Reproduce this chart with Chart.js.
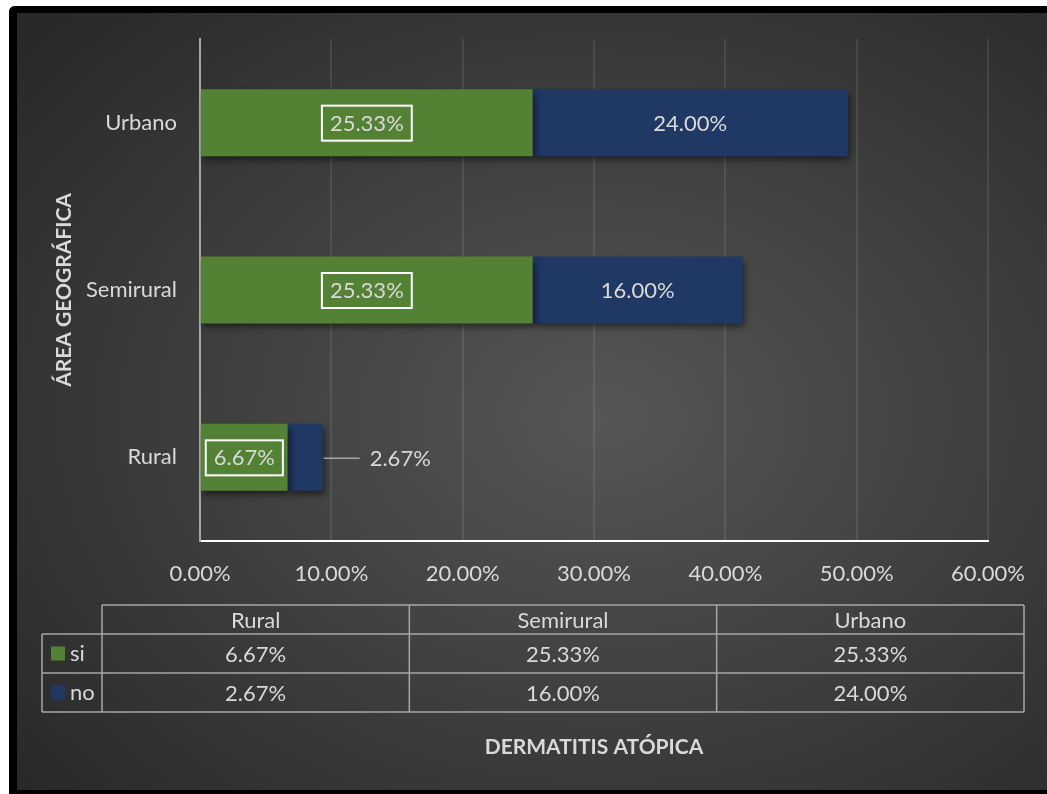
<!DOCTYPE html>
<html lang="es">
<head>
<meta charset="utf-8">
<title>Dermatitis atópica por área geográfica</title>
<script src="https://cdn.jsdelivr.net/npm/chart.js@4.4.1/dist/chart.umd.min.js"></script>
<style>
  html, body { margin: 0; background: #fff; }
  #frame {
    position: absolute; left: 9px; top: 6px;
    width: 1030px; height: 777px;
    border-left: 8px solid #000; border-top: 7px solid #000; border-bottom: 4px solid #000;
    border-top-left-radius: 6px;
    background: radial-gradient(ellipse 75% 75% at 57% 52%, #565656 0%, #3f3f3f 50%, #282828 100%);
  }
  canvas { display: block; }
</style>
</head>
<body>
<div id="frame"><canvas id="chart" width="1030" height="777"></canvas></div>
<script>
"use strict";

// data
const AREAS = ["Rural", "Semirural", "Urbano"];
const SERIES = ["si", "no"];
const SI = [6.67, 25.33, 25.33];
const NO = [2.67, 16.0, 24.0];
const X_MIN = 0, X_MAX = 60, X_STEP = 10;

const GREEN = "#548235";
const BLUE = "#203864";
const TXT = "#d9d9d9";
const LINE = "#a6a6a6";
const FAMILY = "Lato, 'Open Sans', sans-serif";
const FONT_TXT = "22px " + FAMILY;
const FONT_BOLD = "bold 21px " + FAMILY;

const fmtPct = (v) => Number(v).toFixed(2) + "%";

// data table under the axis: legend column, then one column per area
const TABLE = { legendLeft: 25, left: 85, right: 1007, rows: [592, 621, 660, 699] };

// drop shadow under the bars, then the value labels on top
const barLabels = {
  id: "barLabels",
  beforeDatasetsDraw(chart) {
    const ctx = chart.ctx;
    ctx.save();
    ctx.shadowColor = "rgba(0,0,0,0.55)";
    ctx.shadowBlur = 7;
    ctx.shadowOffsetX = 2;
    ctx.shadowOffsetY = 4;
  },
  afterDatasetsDraw(chart) {
    const ctx = chart.ctx;
    ctx.restore();
    ctx.save();
    ctx.font = FONT_TXT;
    ctx.fillStyle = TXT;
    ctx.textBaseline = "middle";
    chart.data.datasets.forEach((ds, di) => {
      chart.getDatasetMeta(di).data.forEach((bar, i) => {
        const text = fmtPct(ds.data[i]);
        const tw = ctx.measureText(text).width;
        const left = Math.min(bar.base, bar.x), right = Math.max(bar.base, bar.x);
        const cx = (left + right) / 2;
        if (di === 0) {
          ctx.strokeStyle = "#fff";
          ctx.lineWidth = 2;
          ctx.strokeRect(cx - tw / 2 - 8, bar.y - 17, tw + 16, 35);
        }
        if (right - left > tw + 8) {
          ctx.textAlign = "center";
          ctx.fillText(text, cx, bar.y + 1);
        } else {
          // too narrow: put the label outside with a leader line
          ctx.strokeStyle = LINE;
          ctx.lineWidth = 1.5;
          ctx.beginPath();
          ctx.moveTo(right + 1, bar.y + 1);
          ctx.lineTo(right + 37, bar.y + 1);
          ctx.stroke();
          ctx.textAlign = "left";
          ctx.fillText(text, right + 47, bar.y + 2);
        }
      });
    });
    ctx.restore();
  },
};

const dataTable = {
  id: "dataTable",
  afterDraw(chart) {
    const ctx = chart.ctx;
    const { legendLeft, left, right, rows } = TABLE;
    const colW = (right - left) / AREAS.length;
    const top = rows[0], bottom = rows[rows.length - 1];
    ctx.save();
    ctx.strokeStyle = LINE;
    ctx.lineWidth = 1.5;
    ctx.beginPath();
    // horizontal rules
    ctx.moveTo(left, rows[0]); ctx.lineTo(right, rows[0]);
    for (let r = 1; r < rows.length; r++) {
      ctx.moveTo(legendLeft, rows[r]); ctx.lineTo(right, rows[r]);
    }
    // vertical rules
    ctx.moveTo(legendLeft, rows[1]); ctx.lineTo(legendLeft, bottom);
    for (let c = 0; c <= AREAS.length; c++) {
      const x = left + c * colW;
      ctx.moveTo(x, top); ctx.lineTo(x, bottom);
    }
    ctx.stroke();

    ctx.font = FONT_TXT;
    ctx.fillStyle = TXT;
    ctx.textBaseline = "middle";
    ctx.textAlign = "center";
    AREAS.forEach((a, c) => {
      const cx = left + (c + 0.5) * colW;
      ctx.fillText(a, cx, (rows[0] + rows[1]) / 2 + 1);
      chart.data.datasets.forEach((ds, di) => {
        ctx.fillText(fmtPct(ds.data[c]), cx, (rows[di + 1] + rows[di + 2]) / 2 + 1);
      });
    });

    // legend keys
    ctx.textAlign = "left";
    chart.data.datasets.forEach((ds, di) => {
      const my = (rows[di + 1] + rows[di + 2]) / 2;
      ctx.fillStyle = ds.backgroundColor;
      ctx.fillRect(legendLeft + 9, my - 7, 14, 14);
      ctx.fillStyle = TXT;
      ctx.fillText(ds.label, legendLeft + 28, my);
    });

    // x axis title sits below the table
    const ca = chart.chartArea;
    ctx.font = FONT_BOLD;
    ctx.textAlign = "center";
    ctx.fillText("DERMATITIS ATÓPICA", (ca.left + ca.right) / 2, 734);
    ctx.restore();
  },
};

function draw() {
  Chart.defaults.font.family = FAMILY;
  Chart.defaults.font.size = 22;
  Chart.defaults.color = TXT;

  new Chart(document.getElementById("chart"), {
    type: "bar",
    data: {
      labels: AREAS,
      datasets: [
        { label: SERIES[0], data: SI, backgroundColor: GREEN },
        { label: SERIES[1], data: NO, backgroundColor: BLUE },
      ],
    },
    options: {
      indexAxis: "y",
      responsive: false,
      animation: false,
      events: [],
      layout: { padding: { left: 0, top: 26, right: 59, bottom: 189 } },
      datasets: { bar: { categoryPercentage: 0.4, barPercentage: 1 } },
      plugins: { legend: { display: false }, tooltip: { enabled: false } },
      scales: {
        x: {
          stacked: true,
          min: X_MIN,
          max: X_MAX,
          ticks: { stepSize: X_STEP, padding: 20, color: TXT, callback: (v) => fmtPct(v) },
          grid: { color: "rgba(255,255,255,0.09)", lineWidth: 2, drawTicks: false },
          border: { color: "#ffffff", width: 2 },
          afterFit: (axis) => { axis.height = 60; },
        },
        y: {
          stacked: true,
          reverse: true,
          ticks: { padding: 23, color: TXT },
          grid: { display: false, drawTicks: false },
          border: { color: LINE, width: 2 },
          title: {
            display: true,
            text: "ÁREA GEOGRÁFICA",
            color: TXT,
            font: { weight: "bold", size: 21 },
            padding: { top: 35, bottom: 0 },
          },
          afterFit: (axis) => {
            axis.width = 183;
            axis.paddingTop = 0;
            axis.paddingBottom = 0;
          },
        },
      },
    },
    plugins: [barLabels, dataTable],
  });
}

Promise.all([document.fonts.load(FONT_TXT), document.fonts.load(FONT_BOLD)])
  .then(draw, draw);
</script>
</body>
</html>
